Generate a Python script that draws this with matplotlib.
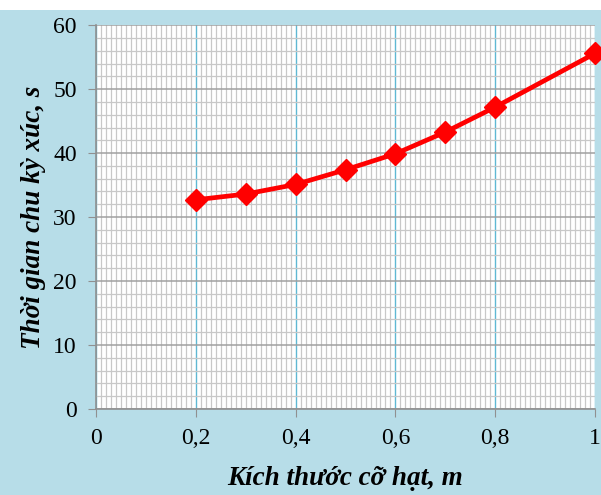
import matplotlib.pyplot as plt
from matplotlib.ticker import MultipleLocator

# --- data ---
kich_thuoc = [0.2, 0.3, 0.4, 0.5, 0.6, 0.7, 0.8, 1.0]
thoi_gian = [32.7, 33.6, 35.1, 37.4, 39.9, 43.3, 47.2, 55.6]
x_ticks = [0, 0.2, 0.4, 0.6, 0.8, 1.0]
x_tick_labels = ['0', '0,2', '0,4', '0,6', '0,8', '1']
y_ticks = [0, 10, 20, 30, 40, 50, 60]

BG = '#b7dde8'
plt.rcParams['font.family'] = ['Liberation Serif', 'DejaVu Serif']

fig = plt.figure(figsize=(6.01, 4.95), dpi=100, facecolor=BG)
# thin white strip along the top of the picture
fig.patches.append(plt.Rectangle((0, 0.98), 1, 0.02, transform=fig.transFigure,
                                 facecolor='white', edgecolor='none', zorder=0))
ax = fig.add_axes([0.16, 0.174, 0.83, 0.775])
ax.set_facecolor('white')

ax.set_xlim(0, 1)
ax.set_ylim(0, 60)

# grid: dense gray minor lines, darker gray major y, blue major x
ax.xaxis.set_minor_locator(MultipleLocator(0.01))
ax.yaxis.set_minor_locator(MultipleLocator(2))
ax.grid(which='minor', axis='both', color='#c8c8c8', linewidth=0.9)
ax.grid(which='major', axis='y', color='#a0a0a0', linewidth=1.1)
ax.grid(which='major', axis='x', color='#5fb8d3', linewidth=1.0)
ax.set_axisbelow(True)

ax.set_xticks(x_ticks)
ax.set_xticklabels(x_tick_labels)
ax.set_yticks(y_ticks)
ax.tick_params(which='major', direction='out', length=6, color='#909090',
               labelsize=17, pad=8)
ax.tick_params(which='minor', length=0)

for side in ['top', 'right']:
    ax.spines[side].set_visible(False)
for side in ['left', 'bottom']:
    ax.spines[side].set_color('#909090')
    ax.spines[side].set_linewidth(1.2)

ax.plot(kich_thuoc, thoi_gian, color='#ff0000', linewidth=3.4, marker='D',
        markersize=11.5, clip_on=False, zorder=5)

ax.set_xlabel('Kích thước cỡ hạt, m', fontsize=19.5, fontweight='bold',
              fontstyle='italic', labelpad=12)
ax.set_ylabel('Thời gian chu kỳ xúc, s', fontsize=19.5, fontweight='bold',
              fontstyle='italic', labelpad=5)

fig.savefig('out.png', dpi=100, facecolor=BG)
